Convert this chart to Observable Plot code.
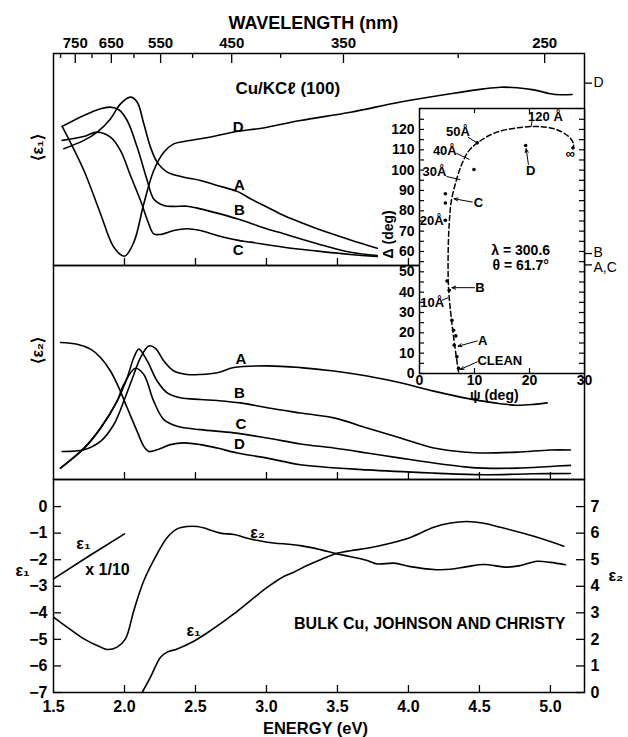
<!DOCTYPE html>
<html><head><meta charset="utf-8">
<script src="https://cdn.jsdelivr.net/npm/d3@7"></script>
<script src="https://cdn.jsdelivr.net/npm/@observablehq/plot@0.6"></script>
<style>
html,body{margin:0;padding:0;background:#fff;}
#chart{position:relative;width:628px;height:737px;overflow:hidden;background:#fff;}
#chart svg{position:absolute;left:0;background:transparent !important;overflow:visible;}
</style></head><body><div id="chart"></div>
<script>
// ---------- data ----------
const HC = 1239.84; // eV·nm, wavelength <-> energy
const energyTicks = [1.5, 2.0, 2.5, 3.0, 3.5, 4.0, 4.5, 5.0];
const energyTickLabels = ["1.5", "2.0", "2.5", "3.0", "3.5", "4.0", "4.5", "5.0"];
const wavelengthLabeled = [750, 650, 550, 450, 350, 250];
const wavelengthUnlabeled = [800, 700, 600, 500, 400, 285];

// Panel 1: <eps1> for Cu/KCl(100), arbitrary units  [energy eV, value]
const eps1A = [[1.573,57.5],[1.714,61.6],[1.808,65.7],[1.901,72.2],[1.972,79.6],[2.042,82.9],[2.089,80.5],[2.136,69.8],[2.183,58.3],[2.230,50.9],[2.301,46.0],[2.418,43.5],[2.535,41.9],[2.653,39.4],[2.794,36.5],[2.887,32.9],[3.005,28.7],[3.122,24.6],[3.239,21.3],[3.357,18.1],[3.592,12.6],[3.780,8.5]];
const eps1B = [[1.561,68.5],[1.714,73.9],[1.831,77.2],[1.901,78.0],[1.960,76.7],[2.019,71.4],[2.089,58.3],[2.160,41.9],[2.206,32.8],[2.277,29.6],[2.347,29.1],[2.441,29.2],[2.535,27.9],[2.653,25.8],[2.793,23.0],[2.887,20.8],[3.005,18.0],[3.122,15.6],[3.357,10.7],[3.592,6.5],[3.780,4.9]];
const eps1C = [[1.561,61.6],[1.714,63.5],[1.808,65.7],[1.901,63.2],[1.972,56.6],[2.042,44.3],[2.113,32.0],[2.171,20.5],[2.206,15.6],[2.254,15.3],[2.347,17.2],[2.441,18.1],[2.535,17.2],[2.653,14.8],[2.794,12.5],[2.887,11.5],[3.122,9.0],[3.357,7.1],[3.592,5.4],[3.780,4.4]];
const eps1D = [[1.561,68.5],[1.714,46.8],[1.831,25.5],[1.925,9.0],[2.000,4.6],[2.066,11.5],[2.136,30.4],[2.206,46.8],[2.277,55.8],[2.347,59.9],[2.418,61.1],[2.535,62.4],[2.653,64.0],[2.770,65.7],[3.005,68.1],[3.239,71.4],[3.592,75.5],[3.944,80.5],[4.296,84.6],[4.530,87.0],[4.648,87.8],[4.765,87.5],[4.883,86.5],[5.000,84.6],[5.070,84.1],[5.153,84.2]];
const sideTickValues = [89.8, 5.9, 0.3];
const sideTickLabels = ["D", "B", "A,C"];

// Panel 2: <eps2>, arbitrary units
const eps2A = [[1.561,13.1],[1.714,13.9],[1.831,17.8],[1.925,25.7],[1.995,36.6],[2.066,49.1],[2.113,57.0],[2.171,62.4],[2.218,61.3],[2.277,55.4],[2.347,50.7],[2.441,49.1],[2.535,49.1],[2.653,49.9],[2.770,52.3],[3.005,53.1],[3.239,52.3],[3.474,50.7],[3.709,48.4],[3.944,45.2],[4.178,41.3],[4.413,37.9],[4.648,35.4],[4.765,34.7],[4.883,35.1],[4.977,35.8]];
const eps2B = [[1.549,5.3],[1.714,14.7],[1.831,24.1],[1.948,36.6],[2.019,47.6],[2.066,57.0],[2.101,60.9],[2.160,55.4],[2.230,46.0],[2.301,40.5],[2.394,38.2],[2.535,37.4],[2.653,36.9],[2.817,35.8],[3.005,33.5],[3.239,31.1],[3.474,28.8],[3.709,24.1],[3.944,19.4],[4.178,14.7],[4.413,12.7],[4.507,12.4],[4.765,12.8],[5.000,13.8],[5.141,13.8]];
const eps2C = [[1.549,5.3],[1.714,14.4],[1.831,23.8],[1.948,36.6],[1.995,44.4],[2.077,52.0],[2.136,49.1],[2.206,36.6],[2.277,28.0],[2.371,24.9],[2.535,23.3],[2.770,21.8],[3.005,19.4],[3.239,16.6],[3.474,14.7],[3.709,12.4],[3.944,10.0],[4.178,7.7],[4.413,5.8],[4.530,5.3],[4.765,5.3],[5.000,6.1],[5.141,6.6]];
const eps2D = [[1.549,64.0],[1.667,63.2],[1.761,60.9],[1.831,57.0],[1.901,50.7],[1.960,42.9],[2.019,33.5],[2.089,22.5],[2.136,15.5],[2.171,13.1],[2.230,13.9],[2.324,16.3],[2.418,17.1],[2.535,16.3],[2.653,14.7],[2.794,12.4],[3.005,10.0],[3.239,6.9],[3.709,4.5],[4.178,3.0],[4.530,2.2],[4.883,2.7],[5.141,2.8]];

// Panel 3: bulk Cu, Johnson and Christy
const bulkEps1Low = [[1.5,-27.2],[1.75,-18.6],[2.0,-10.3]];   // plotted x 1/10
const bulkEps1 = [[2.124,-7.0],[2.183,-6.42],[2.254,-5.67],[2.301,-5.48],[2.371,-5.36],[2.488,-5.07],[2.606,-4.67],[2.770,-4.04],[2.887,-3.54],[3.005,-3.04],[3.122,-2.63],[3.192,-2.47],[3.286,-2.22],[3.380,-2.00],[3.498,-1.76],[3.592,-1.66],[3.709,-1.57],[3.850,-1.41],[4.014,-1.16],[4.178,-0.78],[4.296,-0.62],[4.413,-0.56],[4.530,-0.63],[4.648,-0.78],[4.883,-1.12],[5.094,-1.49]];
const bulkEps2 = [[1.502,2.83],[1.596,2.46],[1.714,2.02],[1.831,1.71],[1.878,1.62],[1.948,1.71],[2.007,2.02],[2.066,3.09],[2.136,4.21],[2.230,5.22],[2.301,5.84],[2.371,6.16],[2.441,6.25],[2.512,6.25],[2.582,6.16],[2.676,6.00],[2.770,5.95],[2.887,5.78],[3.005,5.66],[3.239,5.53],[3.380,5.38],[3.498,5.22],[3.709,4.97],[3.780,4.84],[3.897,4.87],[4.014,4.74],[4.178,4.63],[4.296,4.64],[4.413,4.74],[4.530,4.82],[4.695,4.72],[4.789,4.78],[4.906,4.94],[5.000,4.90],[5.106,4.81]];
const eps1Ticks = [0, -1, -2, -3, -4, -5, -6, -7];
const eps2Ticks = [0, 1, 2, 3, 4, 5, 6, 7];

// Inset: Delta vs psi at lambda = 300.6
const insetCurve = [[7.1,0.8],[6.7,8],[5.9,24.5],[5.3,41],[5.2,57],[5.4,73.6],[5.8,85],[6.7,95],[7.7,103],[9.0,109.6],[11.1,114.5],[14.1,118.7],[18.4,121],[21.5,121.4],[24.5,120.3],[26.9,117],[28.0,113],[27.9,110.5]];
const insetPoints = [[10.5,113.4],[9.9,100.3],[19.3,112.1],[27.9,111],[4.7,88.4],[4.7,83.8],[4.7,75.3],[5.0,45.5],[5.4,40.9],[5.9,26.2],[6.2,21.3],[6.6,18.5],[6.3,13.9],[6.8,8.2],[7.1,2.5]];
const deltaTicks = [0,5,10,15,20,25,30,35,40,45,50,55,60,65,70,75,80,85,90,95,100,105,110,115,120,125];
const deltaLabels = [0,10,20,30,40,50,60,70,80,90,100,110,120];
const psiTicks = [10, 20];
const psiLabels = [0, 10, 20, 30];

// ---------- annotations (placement) ----------
const p1CurveLabels = [{E:2.80,v:68.0,t:"D"},{E:2.81,v:39.4,t:"A"},{E:2.81,v:27.1,t:"B"},{E:2.80,v:7.4,t:"C"}];
const p2CurveLabels = [{E:2.82,v:56.1,t:"A"},{E:2.81,v:40.2,t:"B"},{E:2.82,v:25.7,t:"C"},{E:2.81,v:16.4,t:"D"}];
const p3Labels = [
  {E:1.711,v:-1.39,t:"ε₁"},
  {E:1.880,v:-2.37,t:"x 1/10"},
  {E:2.937,v:-0.98,t:"ε₂"},
  {E:2.486,v:-4.67,t:"ε₁"}
];
const p3Caption = [{E:5.106,v:-4.40,t:"BULK Cu, JOHNSON AND CHRISTY"}];
const insetLeaders = [
  {x1:20.5,y1:124.7,x2:20.3,y2:121.4},
  {x1:8.8,y1:116.2,x2:10.5,y2:113.4},
  {x1:6.7,y1:108.3,x2:9.1,y2:105.2},
  {x1:4.9,y1:96.9,x2:7.4,y2:95.3},
  {x1:4.1,y1:36.0,x2:5.2,y2:37.3}
];
const insetArrows = [
  {x1:9.6,y1:84.3,x2:6.3,y2:85.9},
  {x1:19.8,y1:102.8,x2:19.4,y2:110.5},
  {x1:10.0,y1:42.2,x2:5.9,y2:42.2},
  {x1:10.5,y1:16.0,x2:7.0,y2:13.4},
  {x1:10.5,y1:5.7,x2:7.4,y2:2.0}
];
const insetLabels = [
  {x:22.9,y:126.4,t:"120 Å"},{x:7.0,y:118.7,t:"50Å"},{x:4.6,y:109.7,t:"40Å"},{x:2.7,y:99.3,t:"30Å"},
  {x:10.7,y:83.8,t:"C"},{x:2.2,y:75.3,t:"20Å"},{x:20.2,y:99.8,t:"D"},{x:27.4,y:107.8,t:"∞"},
  {x:11.0,y:42.2,t:"B"},{x:2.3,y:34.9,t:"10Å"},{x:11.5,y:16.0,t:"A"},{x:14.6,y:6.2,t:"CLEAN"}
];
const insetNotes = [{x:18.4,y:60.4,t:"λ = 300.6"},{x:18.4,y:52.9,t:"θ = 61.7°"}];

// ---------- drawing ----------
const FONT = "'Liberation Sans', Arial, Helvetica, sans-serif";
const W = 628, ML = 53, MR = 44, FW = 531;
const xDomain = [1.5, 5.24];
const chart = document.getElementById("chart");
const baseStyle = {fontFamily: FONT, fontWeight: "bold", background: "transparent", overflow: "visible", color: "black"};
const lineOpts = {x: d => d[0], y: d => d[1], curve: "catmull-rom", stroke: "black", strokeWidth: 1.6};
function place(svg, top) { svg.style.top = top + "px"; chart.appendChild(svg); }

// Panel 1
const h1 = 212;
place(Plot.plot({
  width: W, height: 265, marginTop: 53, marginBottom: 0, marginLeft: ML, marginRight: MR,
  x: {domain: xDomain, axis: null}, y: {domain: [0, 104.4], axis: null},
  style: baseStyle,
  marks: [
    Plot.frame({stroke: "black", strokeWidth: 1.5}),
    Plot.tickX(wavelengthLabeled, {x: w => HC / w, insetBottom: h1 - 10, strokeWidth: 1.3}),
    Plot.tickX(wavelengthUnlabeled, {x: w => HC / w, insetBottom: h1 - 5, strokeWidth: 1.3}),
    Plot.text(wavelengthLabeled, {x: w => HC / w, text: w => String(w), frameAnchor: "top", lineAnchor: "bottom", dy: -6, fontSize: 15}),
    Plot.text(["WAVELENGTH (nm)"], {x: () => 3.33, text: d => d, frameAnchor: "top", lineAnchor: "bottom", dy: -25, fontSize: 18}),
    Plot.tickX(energyTicks.slice(1), {x: d => d, insetTop: h1 - 7, strokeWidth: 1.3}),
    Plot.tickY(sideTickValues, {y: d => d, insetLeft: FW, insetRight: -8, strokeWidth: 1.3}),
    Plot.text(sideTickValues.slice(0, 2), {y: d => d, text: (d, i) => sideTickLabels[i], frameAnchor: "right", textAnchor: "start", dx: 9, dy: -1, fontSize: 14, fontWeight: "normal"}),
    Plot.text(sideTickValues.slice(2), {y: d => d, text: (d, i) => sideTickLabels[i + 2], frameAnchor: "right", textAnchor: "start", dx: 9, dy: 3, fontSize: 14, fontWeight: "normal"}),
    Plot.text(["⟨ε₁⟩"], {y: () => 51.7, text: d => d, frameAnchor: "left", dx: -16, rotate: -90, fontSize: 16}),
    Plot.text(["Cu/KCℓ (100)"], {x: () => 3.15, y: () => 87.2, text: d => d, fontSize: 17}),
    Plot.line(eps1A, lineOpts), Plot.line(eps1B, lineOpts), Plot.line(eps1C, lineOpts), Plot.line(eps1D, lineOpts),
    Plot.text(p1CurveLabels, {x: "E", y: "v", text: "t", fontSize: 15})
  ]
}), 0);

// Panel 2
const h2 = 214;
place(Plot.plot({
  width: W, height: 214, marginTop: 0, marginBottom: 0, marginLeft: ML, marginRight: MR,
  x: {domain: xDomain, axis: null}, y: {domain: [0, 100], axis: null},
  style: baseStyle,
  marks: [
    Plot.frame({stroke: "black", strokeWidth: 1.5}),
    Plot.tickX(energyTicks.slice(1), {x: d => d, insetTop: h2 - 7, strokeWidth: 1.3}),
    Plot.text(["⟨ε₂⟩"], {y: () => 54.2, text: d => d, frameAnchor: "left", dx: -16, rotate: -90, fontSize: 16}),
    Plot.line(eps2A, lineOpts), Plot.line(eps2B, lineOpts), Plot.line(eps2C, lineOpts), Plot.line(eps2D, lineOpts),
    Plot.text(p2CurveLabels, {x: "E", y: "v", text: "t", fontSize: 15})
  ]
}), 265);

// Panel 3
const h3 = 213;
place(Plot.plot({
  width: W, height: 258, marginTop: 0, marginBottom: 45, marginLeft: ML, marginRight: MR,
  x: {domain: xDomain, axis: null}, y: {domain: [-7, 1.02], axis: null},
  style: baseStyle,
  marks: [
    Plot.frame({stroke: "black", strokeWidth: 1.5}),
    Plot.tickX(energyTicks.slice(1), {x: d => d, insetTop: h3 - 7, strokeWidth: 1.3}),
    Plot.text(energyTicks, {x: d => d, text: (d, i) => energyTickLabels[i], frameAnchor: "bottom", lineAnchor: "top", dy: 8, fontSize: 16}),
    Plot.text(["ENERGY (eV)"], {x: () => 3.345, text: d => d, frameAnchor: "bottom", lineAnchor: "top", dy: 30, fontSize: 16.5}),
    Plot.tickY(eps1Ticks, {y: d => d, insetRight: FW - 8, strokeWidth: 1.3}),
    Plot.text(eps1Ticks, {y: d => d, text: d => d < 0 ? "−" + Math.abs(d) : String(d), frameAnchor: "left", textAnchor: "end", dx: -6, fontSize: 16}),
    Plot.tickY(eps2Ticks, {y: d => d - 7, insetLeft: FW - 8, strokeWidth: 1.3}),
    Plot.text(eps2Ticks, {y: d => d - 7, text: d => String(d), frameAnchor: "right", textAnchor: "start", dx: 6, fontSize: 16}),
    Plot.text(["ε₁"], {y: () => -2.41, text: d => d, frameAnchor: "left", dx: -38, fontSize: 16}),
    Plot.text(["ε₂"], {y: () => -2.60, text: d => d, frameAnchor: "right", textAnchor: "start", dx: 24, fontSize: 16}),
    Plot.line(bulkEps1Low, {...lineOpts, y: d => d[1] / 10, curve: "linear"}),
    Plot.line(bulkEps1, lineOpts),
    Plot.line(bulkEps2, {...lineOpts, y: d => d[1] - 7}),
    Plot.text(p3Labels, {x: "E", y: "v", text: "t", fontSize: 16}),
    Plot.text(p3Caption, {x: "E", y: "v", text: "t", textAnchor: "end", fontSize: 16})
  ]
}), 479);

// Inset
const hi = 265, wi = 165;
place(Plot.plot({
  width: W, height: 400, marginTop: 108, marginBottom: 27, marginLeft: 419, marginRight: MR,
  x: {domain: [0, 30], axis: null}, y: {domain: [0, 130.3], axis: null},
  style: baseStyle,
  marks: [
    Plot.frame({fill: "white", stroke: "black", strokeWidth: 1.5}),
    Plot.tickY(deltaTicks, {y: d => d, insetRight: wi - 5, strokeWidth: 1.2}),
    Plot.tickY(deltaTicks, {y: d => d, insetLeft: wi - 5, strokeWidth: 1.2}),
    Plot.tickX(psiTicks, {x: d => d, insetBottom: hi - 5, strokeWidth: 1.2}),
    Plot.tickX(psiTicks, {x: d => d, insetTop: hi - 5, strokeWidth: 1.2}),
    Plot.text(deltaLabels, {y: d => d, text: d => String(d), frameAnchor: "left", textAnchor: "end", dx: -5, fontSize: 14}),
    Plot.text(psiLabels, {x: d => d, text: d => String(d), frameAnchor: "bottom", lineAnchor: "top", dy: 2, fontSize: 14}),
    Plot.text(["Δ (deg)"], {y: () => 56.6, text: d => d, frameAnchor: "left", dx: -31, rotate: -90, fontSize: 14}),
    Plot.text(["ψ (deg)"], {x: () => 13.6, text: d => d, frameAnchor: "bottom", lineAnchor: "top", dy: 17, fontSize: 14}),
    Plot.line(insetCurve, {...lineOpts, strokeWidth: 1.5, strokeDasharray: "5,3"}),
    Plot.dot(insetPoints, {x: d => d[0], y: d => d[1], r: 1.8, fill: "black", stroke: null}),
    Plot.link(insetLeaders, {x1: "x1", y1: "y1", x2: "x2", y2: "y2", stroke: "black", strokeWidth: 1}),
    Plot.arrow(insetArrows, {x1: "x1", y1: "y1", x2: "x2", y2: "y2", stroke: "black", strokeWidth: 1, headLength: 6, headAngle: 45}),
    Plot.text(insetLabels, {x: "x", y: "y", text: "t", fontSize: 13}),
    Plot.text(insetNotes, {x: "x", y: "y", text: "t", fontSize: 14})
  ]
}), 0);
</script></body></html>
